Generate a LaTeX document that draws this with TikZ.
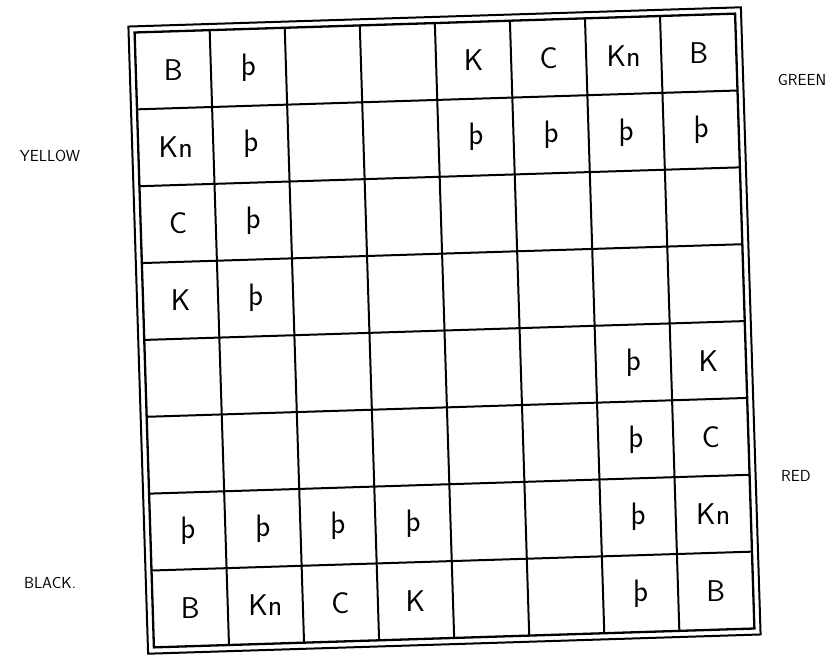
\documentclass[tikz,border=0pt]{standalone}
\usepackage{tikz}
\tikzset{
  gridln/.style ={line width=2pt,line cap=round},
  frame/.style  ={line width=2.3pt},
  piece/.style  ={font=\sffamily\fontsize{30}{30}\selectfont,inner sep=0pt},
  side/.style   ={font=\sffamily\fontsize{16}{16}\selectfont,inner sep=0pt},
}
\newcommand{\pawn}{{\fontsize{31}{31}\selectfont þ}}

\begin{document}
\begin{tikzpicture}[x=1pt,y=-1pt]
  \useasboundingbox (0,0) rectangle (836,654);
  % the 8x8 board, slightly turned as on the scan
  \begin{scope}[shift={(444.5,330.5)},rotate=1.8,x=75.1pt,y=-76.9pt,shift={(-4,-4)}]
    \foreach \k in {1,...,7}{
      \draw[gridln] (\k,0) -- (\k,8);
      \draw[gridln] (0,\k) -- (8,\k);
    }
    \draw[frame] (0,0) rectangle (8,8);
    \draw[line width=2pt] (-0.08,-0.08) rectangle (8.08,8.08);
    % pieces: column/row/letter
    \foreach \c/\r/\p [count=\n] in {1/1/B, 2/1/\pawn, 5/1/K, 6/1/C, 7/1/Kn, 8/1/B,
        1/2/Kn, 2/2/\pawn, 5/2/\pawn, 6/2/\pawn, 7/2/\pawn, 8/2/\pawn,
        1/3/C, 2/3/\pawn, 1/4/K, 2/4/\pawn,
        7/5/\pawn, 8/5/K, 7/6/\pawn, 8/6/C,
        1/7/\pawn, 2/7/\pawn, 3/7/\pawn, 4/7/\pawn, 7/7/\pawn, 8/7/Kn,
        1/8/B, 2/8/Kn, 3/8/C, 4/8/K, 7/8/\pawn, 8/8/B}
      \node[piece] (p\n) at (\c-0.5,\r-0.5) {\p};
  \end{scope}
  % the four sides
  \node[side] (yellow) at (50,156) {YELLOW};
  \node[side] (green)  at (802,80) {GREEN};
  \node[side] (red)    at (796,476) {RED};
  \node[side] (black)  at (50,583) {BLACK.};
\end{tikzpicture}
\end{document}
